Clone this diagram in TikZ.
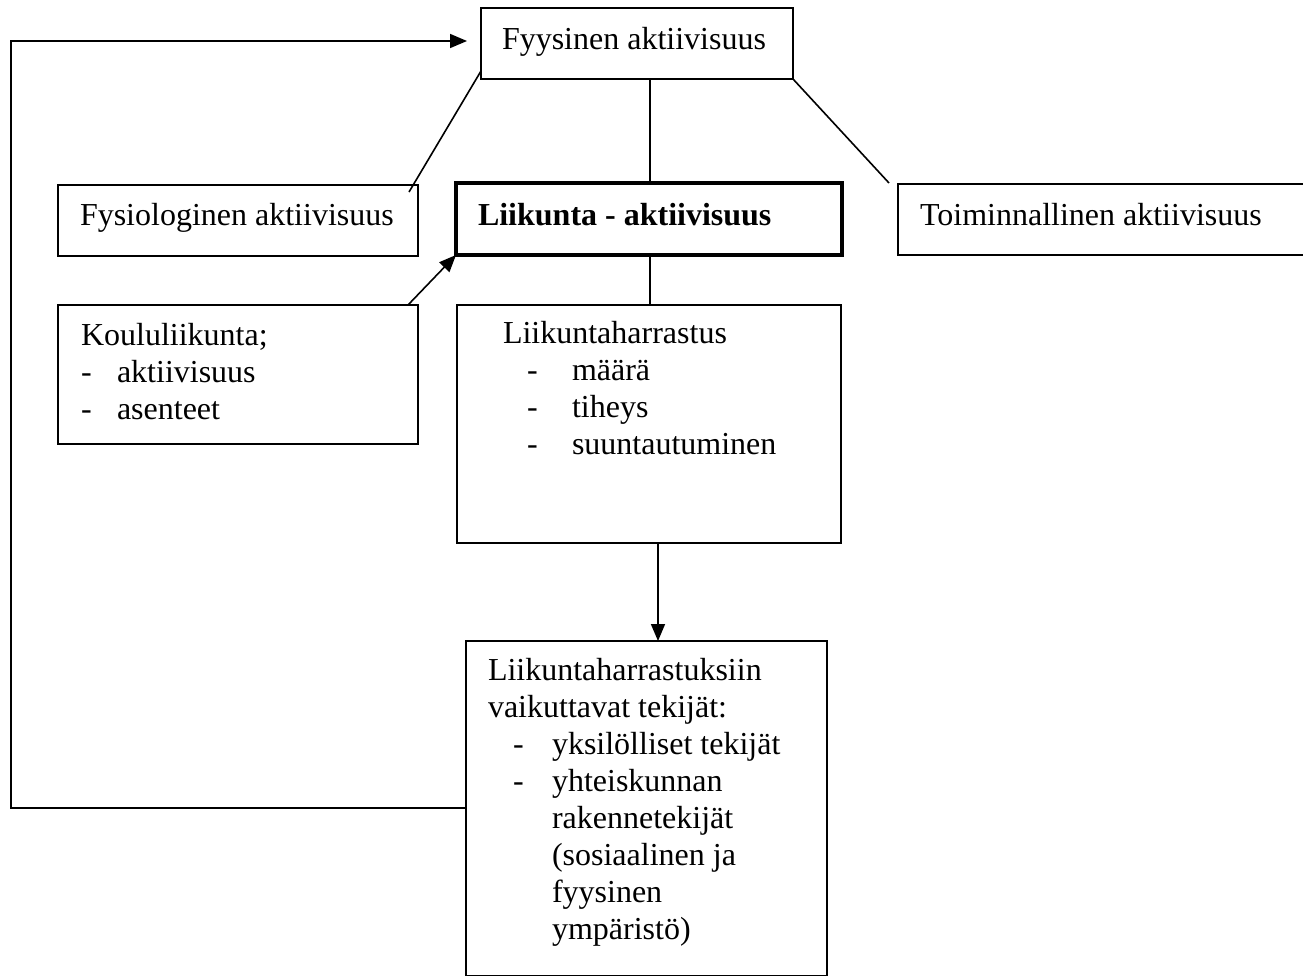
\documentclass[tikz,border=0pt]{standalone}
\usepackage{fontspec}
\setmainfont{Liberation Serif}
\usetikzlibrary{arrows.meta}
\begin{document}
\begin{tikzpicture}[x=1pt,y=-1pt,
  box/.style={draw, line width=1.6pt, rectangle, inner sep=0pt, outer sep=0pt, anchor=north west},
  thickbox/.style={box, line width=3.4pt},
  medbox/.style={box, line width=2.8pt},
  txt/.style={anchor=base west, inner sep=0pt, outer sep=0pt, font=\fontsize{32}{37}\selectfont},
  conn/.style={line width=1.6pt},
  arr/.style={conn, -{Triangle[length=17pt,width=14pt]}}]
\useasboundingbox (0,0) rectangle (1303,975);
\begin{scope}
\clip (0,0) rectangle (1303,975);
% boxes
\node[box, minimum width=312pt, minimum height=71pt] (top) at (481,8) {};
\node[box, minimum width=360pt, minimum height=71pt] (fys) at (58,185) {};
\node[thickbox, minimum width=386pt, minimum height=72pt] (lik) at (456,183) {};
\node[box, minimum width=430pt, minimum height=71pt] (toim) at (898,184) {};
\node[box, minimum width=360pt, minimum height=139pt] (koulu) at (58,305) {};
\node[medbox, minimum width=384pt, minimum height=238pt] (harr) at (457,305) {};
\node[medbox, minimum width=361pt, minimum height=335pt] (bot) at (466,641) {};
% texts
\node[txt] (t1) at (502,49) {Fyysinen aktiivisuus};
\node[txt] (t2) at (80,225) {Fysiologinen aktiivisuus};
\node[txt, font=\fontsize{32}{37}\selectfont\bfseries] (t3) at (478,225) {Liikunta - aktiivisuus};
\node[txt] (t4) at (920,225) {Toiminnallinen aktiivisuus};
\node[txt] (k1) at (81,345) {Koululiikunta;};
\node[txt] (k2) at (81,382) {-};
\node[txt] (k3) at (117,382) {aktiivisuus};
\node[txt] (k4) at (81,419) {-};
\node[txt] (k5) at (117,419) {asenteet};
\node[txt] (h1) at (503,343) {Liikuntaharrastus};
\node[txt] (h2) at (527,380) {-};
\node[txt] (h3) at (572,380) {määrä};
\node[txt] (h4) at (527,417) {-};
\node[txt] (h5) at (572,417) {tiheys};
\node[txt] (h6) at (527,454) {-};
\node[txt] (h7) at (572,454) {suuntautuminen};
\node[txt] (b1) at (488,680) {Liikuntaharrastuksiin};
\node[txt] (b2) at (488,717) {vaikuttavat tekijät:};
\node[txt] (b3) at (513,754) {-};
\node[txt] (b4) at (552,754) {yksilölliset tekijät};
\node[txt] (b5) at (513,791) {-};
\node[txt] (b6) at (552,791) {yhteiskunnan};
\node[txt] (b7) at (552,828) {rakennetekijät};
\node[txt] (b8) at (552,865) {(sosiaalinen ja};
\node[txt] (b9) at (552,902) {fyysinen};
\node[txt] (b10) at (552,939) {ympäristö)};
% connector coordinates
\coordinate (fbStart) at (466,808);
\coordinate (fbC1) at (11,808);
\coordinate (fbC2) at (11,41);
\coordinate (fbEnd) at (467,41);
\coordinate (topSW) at (481,71);
\coordinate (fysNE) at (409,192);
\coordinate (topS) at (650,79);
\coordinate (likN) at (650,183);
\coordinate (topSE) at (793,79);
\coordinate (toimNW) at (889,183);
\coordinate (likS) at (650,255);
\coordinate (harrN) at (650,305);
\coordinate (kouluNE) at (408,305);
\coordinate (likSW) at (456,255);
\coordinate (harrS) at (658,543);
\coordinate (botN) at (658,641);
% connectors
\draw[arr] (fbStart) -- (fbC1) -- (fbC2) -- (fbEnd);
\draw[conn] (topSW) -- (fysNE);
\draw[conn] (topS) -- (likN);
\draw[conn] (topSE) -- (toimNW);
\draw[conn] (likS) -- (harrN);
\draw[arr] (kouluNE) -- (likSW);
\draw[arr] (harrS) -- (botN);
\end{scope}
\end{tikzpicture}
\end{document}
